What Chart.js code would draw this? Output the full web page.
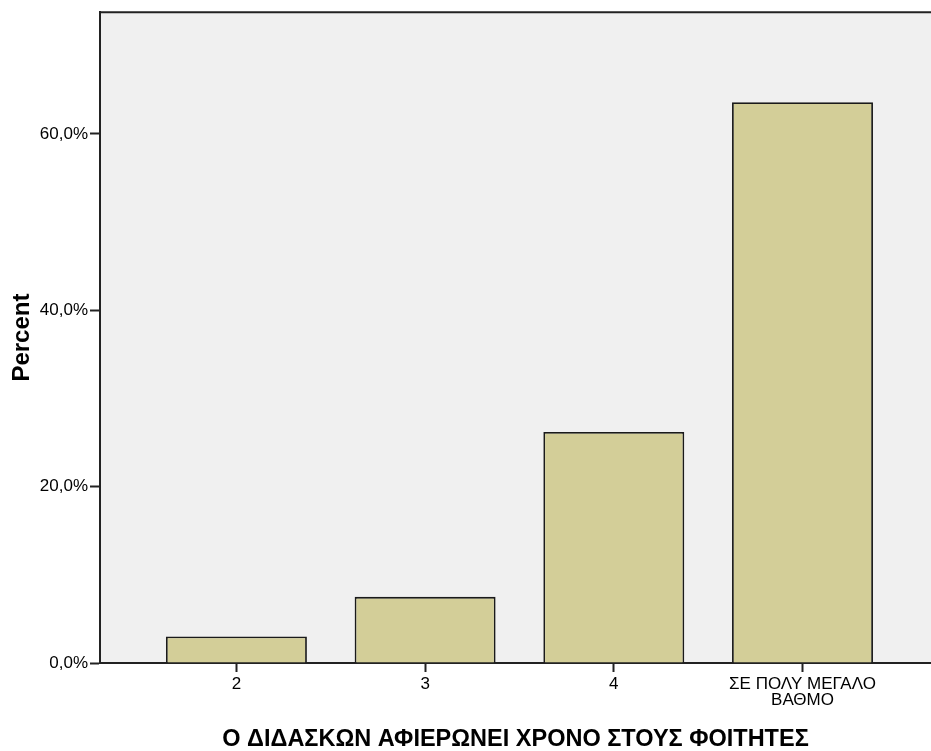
<!DOCTYPE html>
<html>
<head>
<meta charset="utf-8">
<script src="https://cdn.jsdelivr.net/npm/chart.js@4/dist/chart.umd.min.js"></script>
<style>
  html, body { margin: 0; padding: 0; background: #fff; overflow: hidden; }
  #wrap { width: 931px; height: 751px; }
</style>
</head>
<body>
<div id="wrap"><canvas id="barChart"></canvas></div>
<script>
// data
const categories = ['2', '3', '4', ['ΣΕ ΠΟΛΥ ΜΕΓΑΛΟ', 'ΒΑΘΜΟ']];
const percentValues = [3.0, 7.5, 26.2, 63.6];
const yTicks = [0, 20, 40, 60];

const FONT = "'Liberation Sans', Arial, sans-serif";

// grey plot background + top frame line
const plotFrame = {
    id: 'plotFrame',
    beforeDraw(chart) {
        const { ctx, chartArea: a } = chart;
        ctx.save();
        ctx.fillStyle = '#f0f0f0';
        ctx.fillRect(a.left, a.top, a.right - a.left, a.bottom - a.top);
        ctx.strokeStyle = '#222';
        ctx.lineWidth = 2;
        ctx.beginPath();
        ctx.moveTo(a.left, a.top);
        ctx.lineTo(a.right, a.top);
        ctx.stroke();
        ctx.restore();
    }
};

const ctx = document.getElementById('barChart').getContext('2d');
const barChart = new Chart(ctx, {
    type: 'bar',
    data: {
        datasets: [{
            label: 'Percent',
            data: percentValues.map((v, i) => ({ x: i, y: v })),
            backgroundColor: '#d3ce98',
            borderColor: '#1a1a1a',
            borderWidth: 1.8,
            barPercentage: 0.747,
            categoryPercentage: 1
        }]
    },
    options: {
        responsive: true,
        maintainAspectRatio: false,
        animation: false,
        layout: { padding: { top: 11, left: 0, right: 0, bottom: 0 } },
        plugins: {
            legend: { display: false },
            tooltip: { enabled: false }
        },
        scales: {
            x: {
                type: 'linear',
                offset: false,
                min: -0.723,
                max: 3.681,
                afterBuildTicks: scale => {
                    scale.ticks = categories.map((c, i) => ({ value: i }));
                },
                afterFit: scale => { scale.height = 88; },
                grid: {
                    offset: false,
                    drawOnChartArea: false,
                    drawTicks: true,
                    tickLength: 9,
                    tickWidth: 2,
                    tickColor: '#222'
                },
                border: { color: '#222', width: 2 },
                ticks: {
                    autoSkip: false,
                    maxRotation: 0,
                    padding: 4,
                    color: '#000',
                    font: { family: FONT, size: 17, lineHeight: 0.95 },
                    callback: value => categories[value]
                },
                title: {
                    display: true,
                    text: 'Ο ΔΙΔΑΣΚΩΝ ΑΦΙΕΡΩΝΕΙ ΧΡΟΝΟ ΣΤΟΥΣ ΦΟΙΤΗΤΕΣ',
                    color: '#000',
                    font: { family: FONT, size: 23.5, weight: 'bold', lineHeight: 1.0 },
                    padding: { top: 0, bottom: 0 }
                }
            },
            y: {
                min: 0,
                max: 73.8,
                afterBuildTicks: scale => {
                    scale.ticks = yTicks.map(v => ({ value: v }));
                },
                afterFit: scale => { scale.width = 100; },
                grid: {
                    drawOnChartArea: false,
                    drawTicks: true,
                    tickLength: 10,
                    tickWidth: 2,
                    tickColor: '#222'
                },
                border: { color: '#222', width: 2 },
                ticks: {
                    padding: 2,
                    color: '#000',
                    font: { family: FONT, size: 17 },
                    callback: value => value.toFixed(1).replace('.', ',') + '%'
                },
                title: {
                    display: true,
                    text: 'Percent',
                    color: '#000',
                    font: { family: FONT, size: 24, weight: 'bold' },
                    padding: { top: 8, bottom: 0 }
                }
            }
        }
    },
    plugins: [plotFrame]
});
</script>
</body>
</html>
